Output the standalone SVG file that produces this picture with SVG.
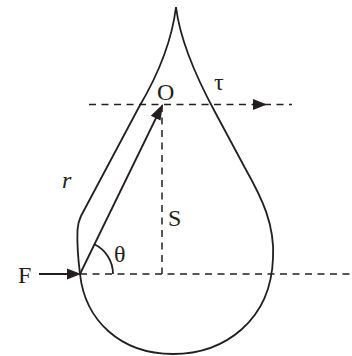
<svg xmlns="http://www.w3.org/2000/svg" width="352" height="356" viewBox="0 0 352 356">
<style>
.o{fill:none;stroke:#231f20;stroke-width:1.8}
.d{fill:none;stroke:#231f20;stroke-width:1.5;stroke-dasharray:7 5.5}
.s{fill:none;stroke:#231f20;stroke-width:1.8}
.ah{fill:#231f20}
text{font-family:"Liberation Serif","Times New Roman",serif;font-size:24px;fill:#231f20}
</style>
<rect width="352" height="356" fill="#fff"/>
<g id="drop">
<path class="o" d="M176,7 C180,40 195,75 215,112 L245,168 C262,198 275,225 273,258 C271,320 225,354 173,354 C120,354 85,320 80,274 C78,258 77,242 77.5,230 Q78,222 81,216 L139,107 C158,75 172,40 176,7 Z"/>
</g>
<g id="connectors">
<line class="d" x1="89" y1="104.5" x2="292" y2="104.5"/>
<polygon class="ah" points="267,104.5 253,99 253,110"/>
<line class="d" x1="80" y1="274" x2="350" y2="274"/>
<line class="d" x1="162" y1="105" x2="162" y2="274"/>
<line class="s" x1="39" y1="274" x2="72" y2="274"/>
<polygon class="ah" points="81,274 67,268.5 67,279.5"/>
<line class="s" x1="80" y1="274" x2="157" y2="116"/>
<polygon class="ah" points="163,104 160.5,120.5 150.8,115.7"/>
<path class="s" d="M94.4,244.3 A33,33 0 0 1 113,274"/>
</g>
<g id="labels">
<text x="18" y="283">F</text>
<text x="157" y="100">O</text>
<text x="214" y="90">τ</text>
<text x="62" y="188" font-style="italic">r</text>
<text x="168" y="226">S</text>
<text x="114" y="262">θ</text>
</g>
</svg>
